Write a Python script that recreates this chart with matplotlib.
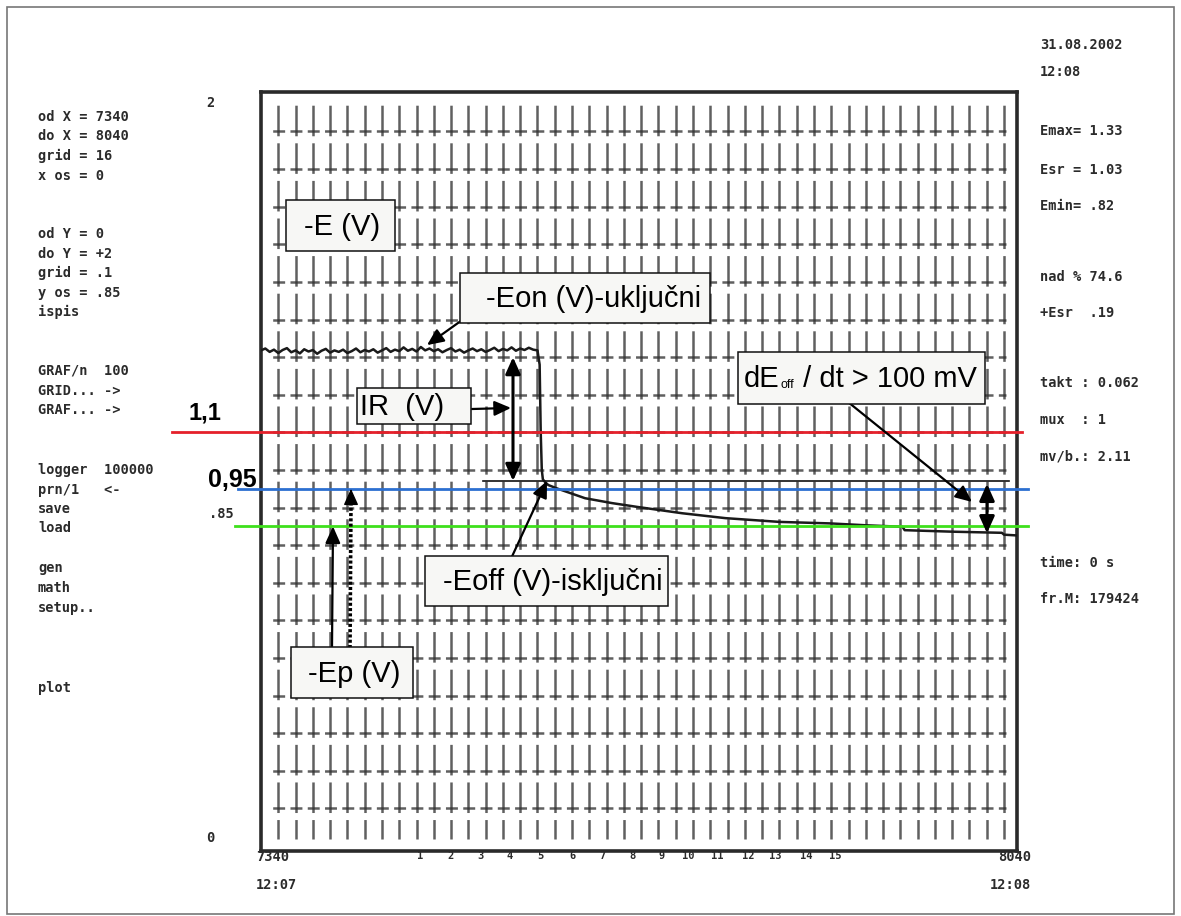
import numpy as np
import matplotlib
matplotlib.use("Agg")
import matplotlib.pyplot as plt
from matplotlib.patches import Rectangle

plt.rcParams["lines.scale_dashes"] = False
W, H = 1181, 916

# ---------------- data ----------------
x_min, x_max, x_grid = 7340, 8040, 16
y_min, y_max, y_grid = 0.0, 2.0, 0.1

e_x = [7340, 7344, 7348, 7352, 7356, 7360, 7364, 7368, 7372, 7376, 7380, 7384,
       7388, 7392, 7396, 7400, 7404, 7408, 7412, 7416, 7420, 7424, 7428, 7432,
       7436, 7440, 7444, 7448, 7452, 7456, 7460, 7464, 7468, 7472, 7476, 7480,
       7484, 7488, 7492, 7496, 7500, 7504, 7508, 7512, 7516, 7520, 7524, 7528,
       7532, 7536, 7540, 7544, 7548, 7552, 7556, 7560, 7564, 7568, 7572, 7576,
       7580, 7584, 7588, 7592, 7596,
       7598, 7599, 7600, 7601, 7603, 7606, 7615, 7640, 7665, 7688, 7730,
       7770, 7820, 7867, 7900, 7934, 7936, 7980, 8026, 8028, 8040]
e_y = [1.318, 1.323, 1.314, 1.320, 1.311, 1.319, 1.324, 1.313, 1.318, 1.310,
       1.321, 1.315, 1.319, 1.309, 1.317, 1.322, 1.312, 1.318, 1.314, 1.320,
       1.311, 1.316, 1.323, 1.313, 1.319, 1.315, 1.321, 1.312, 1.318, 1.324,
       1.314, 1.320, 1.316, 1.326, 1.317, 1.322, 1.315, 1.327, 1.318, 1.323,
       1.316, 1.321, 1.313, 1.319, 1.324, 1.315, 1.320, 1.312, 1.318, 1.323,
       1.316, 1.321, 1.314, 1.319, 1.325, 1.316, 1.322, 1.318, 1.326, 1.317,
       1.323, 1.319, 1.325, 1.320, 1.318,
       1.28, 1.10, 1.00, 0.975, 0.968, 0.960, 0.950, 0.925, 0.912, 0.902, 0.885,
       0.872, 0.862, 0.858, 0.853, 0.849, 0.840, 0.836, 0.833, 0.828, 0.826]

sec_labels = ["1", "2", "3", "4", "5", "6", "7", "8", "9", "10", "11", "12", "13", "14", "15"]
sec_pos = [7487, 7515, 7543, 7570, 7599, 7628, 7656, 7684, 7711, 7736, 7762, 7791, 7816, 7845, 7872]

level_red, level_blue, level_green = 1.1, 0.95, 0.85
level_eoff = 0.971
ir_top, ir_bottom = 1.30, 0.971
de_top, de_bottom = 0.963, 0.832

left_panel = [("od X = 7340", 117), ("do X = 8040", 136), ("grid = 16", 156), ("x os = 0", 176),
              ("od Y = 0", 234), ("do Y = +2", 254), ("grid = .1", 273), ("y os = .85", 293),
              ("ispis", 312), ("GRAF/n  100", 371), ("GRID... ->", 391), ("GRAF... ->", 410),
              ("logger  100000", 470), ("prn/1   <-", 490), ("save", 509), ("load", 528),
              ("gen", 568), ("math", 588), ("setup..", 608), ("plot", 688)]
right_panel = [("31.08.2002", 45), ("12:08", 72), ("Emax= 1.33", 131), ("Esr = 1.03", 170),
               ("Emin= .82", 206), ("nad % 74.6", 277), ("+Esr  .19", 313),
               ("takt : 0.062", 383), ("mux  : 1", 420), ("mv/b.: 2.11", 456),
               ("time: 0 s", 563), ("fr.M: 179424", 599)]

# ---------------- figure ----------------
fig = plt.figure(figsize=(W / 100, H / 100), dpi=100)
fig.patch.set_facecolor("white")

def fx(x):
    return x / W

def fy(y):
    return 1 - y / H

ax_l, ax_r, ax_t, ax_b = 261, 1017, 92, 851
ax = fig.add_axes([fx(ax_l), fy(ax_b), (ax_r - ax_l) / W, (ax_b - ax_t) / H])
ax.set_xlim(x_min, x_max)
ax.set_ylim(-0.013, 2.005)
ax.set_xticks([])
ax.set_yticks([])
for s in ax.spines.values():
    s.set_linewidth(2.6)
    s.set_color("#2a2a2a")

# grid
gx = np.arange(x_min + x_grid, x_max, x_grid)
gy = np.arange(y_min + y_grid, y_max - y_grid / 2, y_grid)
ax.vlines(gx, 0.02, 1.98, colors="#333333", linewidth=1.8, alpha=0.78,
          linestyles=[(8, (22.0, 5.07))])
ax.hlines(gy, x_min + 8, x_max - 10, colors="#333333", linewidth=1.8, alpha=0.78,
          linestyles=[(10.5, (8.6, 3.84))])

# curve
ax.plot(e_x, e_y, color="#1a1a1a", linewidth=1.8, zorder=5)

# colored reference lines (extend beyond axes)
trans = ax.get_yaxis_transform()
ax.plot([-0.118, 1.007], [level_red] * 2, color="#e5202a", lw=2.0, transform=trans, clip_on=False, zorder=6)
ax.plot([-0.030, 1.015], [level_blue] * 2, color="#2c6fd0", lw=2.0, transform=trans, clip_on=False, zorder=6)
ax.plot([-0.034, 1.015], [level_green] * 2, color="#3ee01c", lw=2.0, transform=trans, clip_on=False, zorder=6)
ax.plot([0.294, 0.99], [level_eoff] * 2, color="#111111", lw=1.2, transform=trans, clip_on=False, zorder=6)

# outer border
fig.patches.append(Rectangle((fx(7), fy(914)), (1174 - 7) / W, (914 - 7) / H, transform=fig.transFigure,
                             fill=False, edgecolor="#777777", lw=1.2))

mono = dict(family="DejaVu Sans Mono", fontweight="bold", fontsize=9.8, color="#2b2b2b")
for t, y in left_panel:
    fig.text(fx(38), fy(y), t, va="center", ha="left", **mono)
for t, y in right_panel:
    fig.text(fx(1040), fy(y), t, va="center", ha="left", **mono)

fig.text(fx(210), fy(103), "2", va="center", ha="center", **mono)
fig.text(fx(210), fy(838), "0", va="center", ha="center", **mono)
fig.text(fx(234), fy(514), ".85", va="center", ha="right", **mono)
fig.text(fx(256), fy(857), "7340", va="center", ha="left", **mono)
fig.text(fx(256), fy(885), "12:07", va="center", ha="left", **mono)
fig.text(fx(1031), fy(857), "8040", va="center", ha="right", **mono)
fig.text(fx(1031), fy(885), "12:08", va="center", ha="right", **mono)
for lab, xp in zip(sec_labels, sec_pos):
    ax.text(xp, -0.014, lab, transform=ax.transData, ha="center", va="top",
            family="DejaVu Sans Mono", fontweight="bold", fontsize=7.5, color="#2b2b2b")

bold = dict(family="Liberation Sans", fontweight="bold", color="black")
fig.text(fx(205), fy(413), "1,1", va="center", ha="center", fontsize=17, **bold)
fig.text(fx(232), fy(480), "0,95", va="center", ha="center", fontsize=18, **bold)

FS = 21

def rect(x0, y0, x1, y1):
    fig.patches.append(Rectangle((fx(x0), fy(y1)), (x1 - x0) / W, (y1 - y0) / H,
                                 transform=fig.transFigure, facecolor="#f7f7f5",
                                 edgecolor="#111111", lw=1.1, zorder=10))

def box(x0, y0, x1, y1, text, tx):
    rect(x0, y0, x1, y1)
    return fig.text(fx(tx), fy((y0 + y1) / 2 + 1), text, va="center", ha="left",
                    family="Liberation Sans", fontsize=FS, color="black", zorder=11)

box(286, 200, 395, 251, "-E (V)", 304)
box(460, 273, 710, 323, "-Eon (V)-uključni", 486)
box(357, 388, 471, 424, "IR  (V)", 360)
box(425, 556, 668, 606, "-Eoff (V)-isključni", 443)
box(291, 647, 413, 698, "-Ep (V)", 308)

# dE_off box with tiny subscript
rect(738, 352, 985, 404)
t1 = fig.text(fx(744), fy(379), "dE", va="center", ha="left",
              family="Liberation Sans", fontsize=FS, color="black", zorder=11)
fig.canvas.draw()
bb1 = t1.get_window_extent()
t2 = fig.text(bb1.x1 + 0.5, bb1.y0 + 5, "off", transform=None, va="baseline", ha="left",
              family="Liberation Sans", fontsize=9, color="black", zorder=11)
fig.canvas.draw()
bb2 = t2.get_window_extent()
fig.text(bb2.x1 + 1, (bb1.y0 + bb1.y1) / 2, " / dt > 100 mV", transform=None, va="center",
         ha="left", family="Liberation Sans", fontsize=FS, color="black", zorder=11)

arrow = dict(arrowstyle="-|>,head_length=1.0,head_width=0.45", color="black", lw=1.6,
             shrinkA=0, shrinkB=0)
darrow = dict(arrowstyle="<|-|>,head_length=1.0,head_width=0.45", color="black", lw=2.2,
              shrinkA=0, shrinkB=0)

def px2data(px):
    return x_min + (px - ax_l) / (ax_r - ax_l) * (x_max - x_min)

ax.annotate("", xy=(px2data(427), 1.332), xytext=(fx(472), fy(313)),
            textcoords="figure fraction", arrowprops=arrow, zorder=12)
ax.annotate("", xy=(px2data(511), 1.165), xytext=(fx(472), fy(409)),
            textcoords="figure fraction", arrowprops=arrow, zorder=12)
ax.annotate("", xy=(px2data(513), ir_bottom), xytext=(px2data(513), ir_top),
            arrowprops=darrow, zorder=12)
ax.annotate("", xy=(px2data(547), level_eoff), xytext=(fx(509), fy(563)),
            textcoords="figure fraction", arrowprops=arrow, zorder=12)
ax.annotate("", xy=(px2data(333), level_green), xytext=(fx(332), fy(648)),
            textcoords="figure fraction", arrowprops=arrow, zorder=12)

# dotted arrow to the blue level
ep_y0 = (846 - 648) / 376.0
ax.plot([px2data(350), px2data(351)], [ep_y0, level_blue - 0.03], color="black", lw=2.6,
        linestyle=(0, (2.2, 1.6)), zorder=12, solid_capstyle="butt", dash_capstyle="butt")
ax.annotate("", xy=(px2data(351), level_blue), xytext=(px2data(351), level_blue - 0.035),
            arrowprops=dict(arrowstyle="-|>,head_length=1.0,head_width=0.45", color="black",
                            lw=1.0, shrinkA=0, shrinkB=0), zorder=12)
ax.annotate("", xy=(px2data(972), 0.915), xytext=(fx(848), fy(402)),
            textcoords="figure fraction", arrowprops=arrow, zorder=12)
ax.annotate("", xy=(px2data(987), de_bottom), xytext=(px2data(987), de_top),
            arrowprops=darrow, zorder=12)

fig.savefig("out.png", dpi=100)
